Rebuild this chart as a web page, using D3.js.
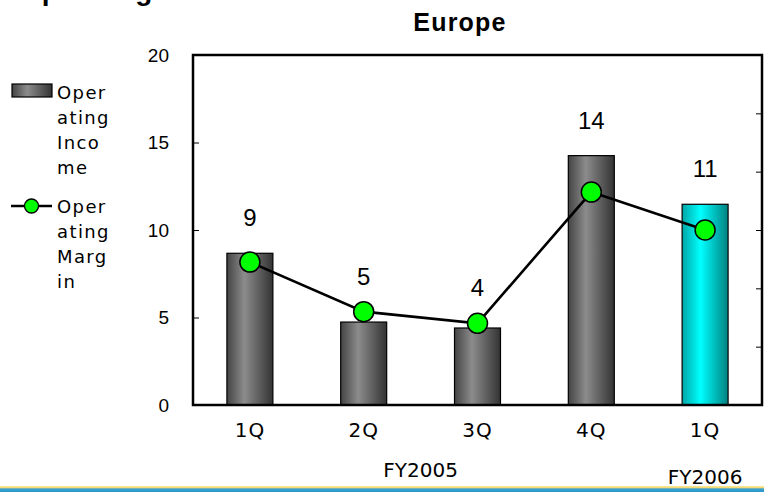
<!DOCTYPE html>
<html>
<head>
<meta charset="utf-8">
<script src="https://cdn.jsdelivr.net/npm/d3@7"></script>
<style>
  html, body { margin: 0; padding: 0; background: #fff; }
  svg { display: block; font-family: "Liberation Sans", Arial, sans-serif; }
</style>
</head>
<body>
<svg id="chart" width="764" height="492"></svg>
<script>
// ---- data ----
const categories = ["1Q", "2Q", "3Q", "4Q", "1Q'06"];
const categoryLabels = ["1Q", "2Q", "3Q", "4Q", "1Q"];
const operatingIncome = [8.67, 4.74, 4.4, 14.25, 11.47];
const incomeLabels = ["9", "5", "4", "14", "11"];
const operatingMargin = [4.9, 3.2, 2.8, 7.3, 6.0];
const yTicks = [0, 5, 10, 15, 20];
const y2Ticks = [0, 2, 4, 6, 8, 10, 12];
const fiscalYears = [
  { label: "FY2005", from: "1Q", to: "4Q" },
  { label: "FY2006", from: "1Q'06", to: "1Q'06" }
];
const legendIncome = ["Oper", "ating", "Inco", "me"];
const legendMargin = ["Oper", "ating", "Marg", "in"];
const highlighted = ["1Q'06"];

// ---- layout ----
const W = 764, H = 492;
const plot = { left: 193, right: 762, top: 55, bottom: 405 };
const wideFont = "DejaVu Sans, Verdana, sans-serif";

const svg = d3.select("#chart");
const defs = svg.append("defs");

const gGrey = defs.append("linearGradient").attr("id", "gGrey")
  .attr("x1", "0%").attr("x2", "100%").attr("y1", "0%").attr("y2", "0%");
[["0%", "#444444"], ["38%", "#8c8c8c"], ["100%", "#333333"]].forEach(s =>
  gGrey.append("stop").attr("offset", s[0]).attr("stop-color", s[1]));

const gCyan = defs.append("linearGradient").attr("id", "gCyan")
  .attr("x1", "0%").attr("x2", "100%").attr("y1", "0%").attr("y2", "0%");
[["0%", "#00a6a6"], ["40%", "#00ffff"], ["100%", "#008080"]].forEach(s =>
  gCyan.append("stop").attr("offset", s[0]).attr("stop-color", s[1]));

const gStripe = defs.append("linearGradient").attr("id", "gStripe")
  .attr("x1", "0%").attr("x2", "0%").attr("y1", "0%").attr("y2", "100%");
[["0%", "#fbe9a0"], ["35%", "#f1d36a"], ["45%", "#3aa3d2"], ["100%", "#2a96c8"]].forEach(s =>
  gStripe.append("stop").attr("offset", s[0]).attr("stop-color", s[1]));

// ---- scales ----
const x = d3.scaleBand().domain(categories)
  .range([plot.left, plot.right])
  .paddingInner(0.596).paddingOuter(0.298);
const y = d3.scaleLinear().domain([0, 20]).range([plot.bottom, plot.top]);
const y2 = d3.scaleLinear().domain([0, 12]).range([plot.bottom, plot.top]);
const cx = d => x(d) + x.bandwidth() / 2;

// ---- cut-off page heading (only its descenders show, as in the source slide) ----
svg.append("text").attr("x", 20).attr("y", 0)
  .attr("font-size", 28).attr("font-weight", "bold").attr("fill", "#000")
  .text("Operating Income");

// ---- title ----
svg.append("text").attr("x", 460).attr("y", 31)
  .attr("text-anchor", "middle").attr("font-size", 25).attr("font-weight", "bold")
  .attr("letter-spacing", 1.2)
  .text("Europe");

// ---- left axis (ticks inward) ----
const yAxis = d3.axisLeft(y).tickValues(yTicks).tickSize(-6).tickPadding(24);
const gy = svg.append("g").attr("transform", `translate(${plot.left},0)`).call(yAxis);
gy.select(".domain").remove();
gy.selectAll(".tick line").attr("stroke", "#000").attr("stroke-width", 1);
gy.selectAll(".tick text").attr("font-size", 19).attr("fill", "#000")
  .attr("font-family", "Liberation Sans, Arial, sans-serif");

// ---- right axis (ticks inward, no labels) ----
const y2Axis = d3.axisRight(y2).tickValues(y2Ticks).tickSize(-6).tickFormat("");
const gy2 = svg.append("g").attr("transform", `translate(${plot.right},0)`).call(y2Axis);
gy2.select(".domain").remove();
gy2.selectAll(".tick line").attr("stroke", "#000").attr("stroke-width", 1);

// ---- bars ----
svg.append("g").selectAll("rect").data(categories).join("rect")
  .attr("x", d => x(d))
  .attr("y", (d, i) => y(operatingIncome[i]))
  .attr("width", x.bandwidth())
  .attr("height", (d, i) => y(0) - y(operatingIncome[i]))
  .attr("fill", d => highlighted.includes(d) ? "url(#gCyan)" : "url(#gGrey)")
  .attr("stroke", "#000").attr("stroke-width", 1.2);

// ---- plot frame ----
svg.append("rect")
  .attr("x", plot.left).attr("y", plot.top)
  .attr("width", plot.right - plot.left).attr("height", plot.bottom - plot.top)
  .attr("fill", "none").attr("stroke", "#000").attr("stroke-width", 2.5);

// ---- margin line ----
const line = d3.line().x((d, i) => cx(categories[i])).y(d => y2(d));
svg.append("path").datum(operatingMargin)
  .attr("d", line).attr("fill", "none").attr("stroke", "#000").attr("stroke-width", 2.6);
svg.append("g").selectAll("circle").data(operatingMargin).join("circle")
  .attr("cx", (d, i) => cx(categories[i]))
  .attr("cy", d => y2(d))
  .attr("r", 10)
  .attr("fill", "#00ff00").attr("stroke", "#000").attr("stroke-width", 1.5);

// ---- value labels ----
svg.append("g").selectAll("text").data(incomeLabels).join("text")
  .attr("x", (d, i) => cx(categories[i]))
  .attr("y", (d, i) => Math.min(y(operatingIncome[i]), y2(operatingMargin[i])) - 27)
  .attr("text-anchor", "middle").attr("font-size", 24).attr("fill", "#000")
  .text(d => d);

// ---- x labels ----
svg.append("g").selectAll("text").data(categories).join("text")
  .attr("x", d => cx(d))
  .attr("y", 437)
  .attr("text-anchor", "middle").attr("font-size", 20).attr("letter-spacing", 1)
  .attr("font-family", wideFont)
  .text((d, i) => categoryLabels[i]);

svg.append("g").selectAll("text").data(fiscalYears).join("text")
  .attr("x", d => (cx(d.from) + cx(d.to)) / 2)
  .attr("y", (d, i) => i === 0 ? 477 : 484)
  .attr("text-anchor", "middle").attr("font-size", 20).attr("letter-spacing", 0)
  .attr("font-family", wideFont)
  .text(d => d.label);

// ---- legend ----
const lg = svg.append("g");
lg.append("rect").attr("x", 12).attr("y", 84).attr("width", 40).attr("height", 13)
  .attr("fill", "url(#gGrey)").attr("stroke", "#000").attr("stroke-width", 1.2);
lg.append("g").selectAll("text").data(legendIncome).join("text")
  .attr("x", 57).attr("y", (d, i) => 99 + i * 25)
  .attr("font-size", 18).attr("letter-spacing", 1.4)
  .attr("font-family", wideFont).text(d => d);

lg.append("line").attr("x1", 11).attr("x2", 52).attr("y1", 206).attr("y2", 206)
  .attr("stroke", "#000").attr("stroke-width", 2.6);
lg.append("circle").attr("cx", 31.5).attr("cy", 206).attr("r", 7)
  .attr("fill", "#00ff00").attr("stroke", "#000").attr("stroke-width", 1.3);
lg.append("g").selectAll("text").data(legendMargin).join("text")
  .attr("x", 57).attr("y", (d, i) => 213 + i * 25)
  .attr("font-size", 18).attr("letter-spacing", 1.4)
  .attr("font-family", wideFont).text(d => d);

// ---- bottom stripe ----
svg.append("rect").attr("x", 0).attr("y", 486).attr("width", W).attr("height", 6)
  .attr("fill", "url(#gStripe)");
</script>
</body>
</html>
